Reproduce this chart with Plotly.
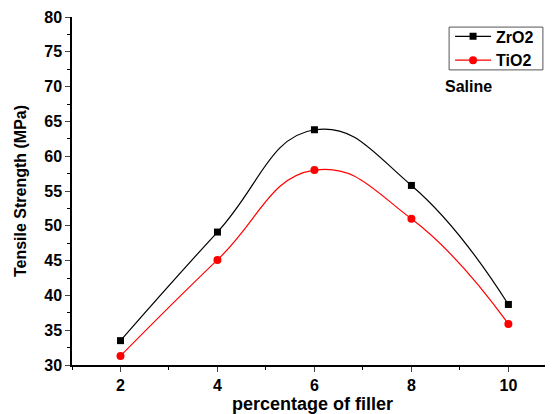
import plotly.graph_objects as go

filler = [2, 4, 6, 8, 10]
zro2 = [33.5, 49.1, 63.8, 55.8, 38.7]
tio2 = [31.3, 45.1, 58.0, 51.0, 35.9]
x_ticks = [2, 4, 6, 8, 10]
y_ticks = [30, 35, 40, 45, 50, 55, 60, 65, 70, 75, 80]

font = "Liberation Sans, Arial, sans-serif"

fig = go.Figure()
fig.add_trace(go.Scatter(x=filler, y=zro2, name="ZrO2", mode="lines+markers",
                         line=dict(color="black", width=1.2, shape="spline", smoothing=1.3),
                         marker=dict(symbol="square", size=7, color="black")))
fig.add_trace(go.Scatter(x=filler, y=tio2, name="TiO2", mode="lines+markers",
                         line=dict(color="red", width=1.2, shape="spline", smoothing=1.3),
                         marker=dict(symbol="circle", size=8, color="red")))

# page body has an 8px margin, so the figure is sized/offset to compensate
fig.update_layout(
    width=545, height=406,
    margin=dict(l=64, r=0, t=9, b=49, autoexpand=False),
    paper_bgcolor="white", plot_bgcolor="white",
    font=dict(family=font, size=16, color="black"),
    showlegend=True,
    legend=dict(x=0.786, y=0.993, xanchor="left", yanchor="top",
                borderwidth=0, bgcolor="rgba(0,0,0,0)",
                font=dict(family=font, size=16, color="black", weight="bold"),
                tracegroupgap=0, itemwidth=36),
    shapes=[dict(type="rect", xref="paper", yref="paper", x0=0.784, x1=0.979, y0=0.848, y1=0.971,
                 line=dict(color="#555", width=1), fillcolor="white", layer="below")],
    xaxis=dict(range=[1, 10.92], tickvals=x_ticks, ticks="outside", ticklen=5,
               showline=True, linecolor="black", linewidth=1.5, showgrid=False, zeroline=False,
               automargin=False,
               tickfont=dict(family=font, size=16, weight="bold"),
               minor=dict(tickvals=[1, 3, 5, 7, 9], ticks="outside", ticklen=3, tickcolor="black"),
               title=dict(text="percentage of filler", font=dict(family=font, size=18, weight="bold"), standoff=1)),
    yaxis=dict(range=[30, 80], tickvals=y_ticks, ticks="outside", ticklen=5,
               showline=True, linecolor="black", linewidth=1.5, showgrid=False, zeroline=False,
               automargin=False,
               tickfont=dict(family=font, size=16, weight="bold"),
               minor=dict(dtick=2.5, ticks="outside", ticklen=3, tickcolor="black"),
               title=dict(text="Tensile Strength (MPa)", font=dict(family=font, size=16, weight="bold"), standoff=14)),
    annotations=[dict(text="<b>Saline</b>", x=0.877, y=0.83, xref="paper", yref="paper",
                      showarrow=False, font=dict(family=font, size=16, color="black"))],
)

fig.write_html("out.html")
